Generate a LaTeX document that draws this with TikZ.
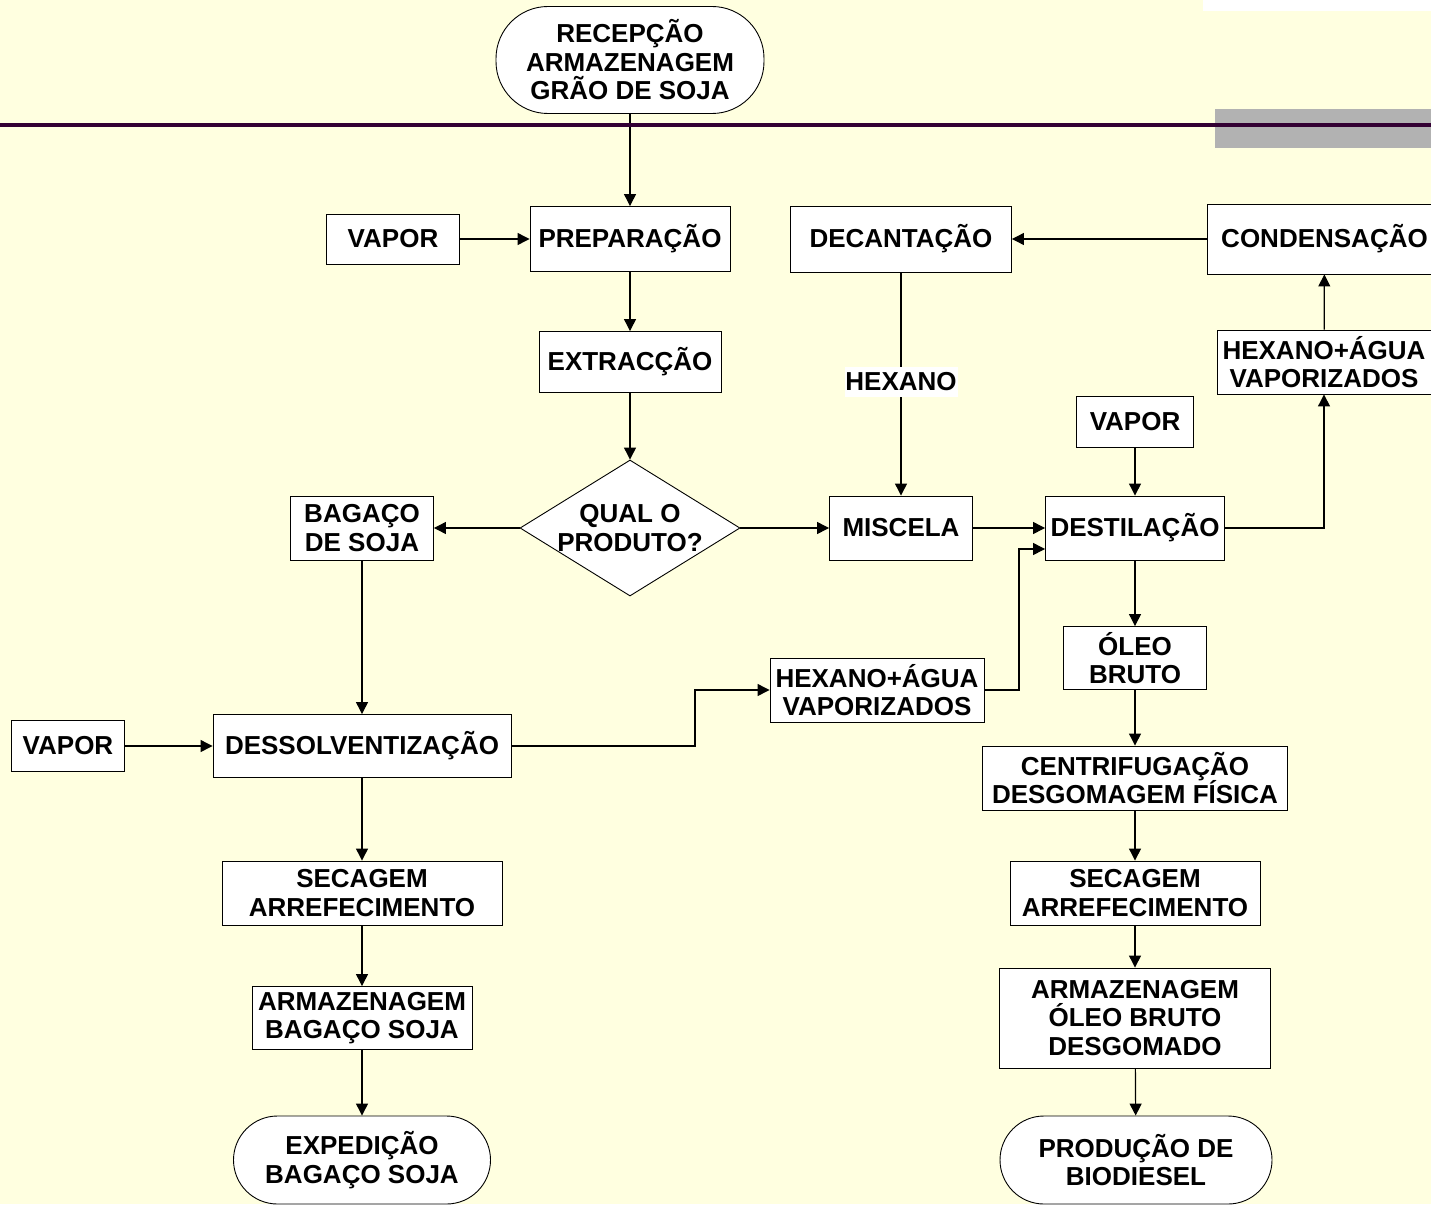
\documentclass[tikz,border=0pt]{standalone}
\usepackage{fontspec}
\setmainfont{Liberation Sans}
\usetikzlibrary{arrows.meta,shapes.geometric}
\definecolor{bgc}{RGB}{255,255,224}
\definecolor{barc}{RGB}{51,0,51}
\definecolor{grc}{RGB}{178,178,178}
\newcommand{\boxfont}{\fontsize{26}{28.5}\selectfont\bfseries}
\tikzset{
  box/.style={draw=black, fill=white, line width=0.9pt, inner sep=0pt, align=center, font=\boxfont},
  term/.style={box, rounded corners=44pt},
  lbl/.style={fill=white, inner sep=0pt, align=center, font=\boxfont},
  arr/.style={-{Triangle[length=12pt,width=12pt]}, line width=1.2pt},
  ln/.style={line width=1.2pt}
}
\begin{document}
\begin{tikzpicture}[x=1pt,y=-1pt]
\useasboundingbox (0,0) rectangle (1431,1204);
\clip (0,0) rectangle (1431,1204);
\fill[bgc] (0,0) rectangle (1431,1204);
\fill[white] (1203,0) rectangle (1431,11);
\fill[grc] (1215,109) rectangle (1431,148);

% nodes
\node[term, minimum width=268pt, minimum height=107pt, rounded corners=52pt] (start) at (630,60) {RECEPÇÃO\\ARMAZENAGEM\\GRÃO DE SOJA};
\node[box, minimum width=133pt, minimum height=50pt] (vap1) at (393,239) {VAPOR};
\node[box, minimum width=200pt, minimum height=65pt] (prep) at (630,239) {PREPARAÇÃO};
\node[box, minimum width=221pt, minimum height=66pt] (dec) at (901,239) {DECANTAÇÃO};
\node[box, minimum width=235pt, minimum height=70pt] (cond) at (1324.5,239) {CONDENSAÇÃO};
\node[box, minimum width=214pt, minimum height=64pt] (hexa) at (1324,362) {HEXANO+ÁGUA\\VAPORIZADOS};
\node[box, minimum width=182pt, minimum height=61pt] (ext) at (630,362) {EXTRACÇÃO};
\node[box, minimum width=117pt, minimum height=51pt] (vap2) at (1135,422) {VAPOR};
\node[diamond, draw=black, fill=white, line width=0.9pt, inner sep=0pt, aspect=1.62, minimum width=220pt, minimum height=136pt] (q) at (630,528) {};
\node[align=center, font=\boxfont, inner sep=0pt] (qt) at (q.center) {QUAL O\\PRODUTO?};
\node[box, minimum width=143pt, minimum height=64pt] (bag) at (362,528) {BAGAÇO\\DE SOJA};
\node[box, minimum width=143pt, minimum height=64pt] (mis) at (901,528) {MISCELA};
\node[box, minimum width=179pt, minimum height=64pt] (dest) at (1135,528) {DESTILAÇÃO};
\node[box, minimum width=143pt, minimum height=63pt] (oleo) at (1135,658) {ÓLEO\\BRUTO};
\node[box, minimum width=214pt, minimum height=64pt] (hexm) at (877,690) {HEXANO+ÁGUA\\VAPORIZADOS};
\node[box, minimum width=113pt, minimum height=51pt] (vap3) at (68,746) {VAPOR};
\node[box, minimum width=298pt, minimum height=63pt] (dess) at (362,746) {DESSOLVENTIZAÇÃO};
\node[box, minimum width=305pt, minimum height=64pt] (cent) at (1135,778) {CENTRIFUGAÇÃO\\DESGOMAGEM FÍSICA};
\node[box, minimum width=280pt, minimum height=64pt] (secl) at (362,893) {SECAGEM\\ARREFECIMENTO};
\node[box, minimum width=250pt, minimum height=64pt] (secr) at (1135,893) {SECAGEM\\ARREFECIMENTO};
\node[box, minimum width=220pt, minimum height=63pt] (arml) at (362,1018) {ARMAZENAGEM\\BAGAÇO SOJA};
\node[box, minimum width=271pt, minimum height=100pt] (armr) at (1135,1018) {ARMAZENAGEM\\ÓLEO BRUTO\\DESGOMADO};
\node[term, minimum width=257pt, minimum height=88pt] (exp) at (362,1160) {EXPEDIÇÃO\\BAGAÇO SOJA};
\node[term, minimum width=272pt, minimum height=88pt] (prod) at (1136,1160) {PRODUÇÃO DE\\BIODIESEL};

% connectors
\draw[arr] (start) -- (prep);
\draw[arr] (vap1) -- (prep);
\draw[arr] (prep) -- (ext);
\draw[arr] (ext) -- (q);
\draw[arr] (q) -- (bag);
\draw[arr] (q) -- (mis);
\draw[arr] (cond) -- (dec);
\draw[arr] (dec) -- (mis);
\node[lbl, minimum width=113pt, minimum height=30pt] (hexl) at (901,382) {HEXANO};
\draw[arr] (mis) -- (dest);
\draw[arr] (vap2) -- (dest);
\draw[arr] (dest.east) -| (hexa.south);
\draw[arr] (hexa) -- (cond);
\draw[arr] (dest) -- (oleo);
\draw[arr] (oleo) -- (cent);
\draw[arr] (cent) -- (secr);
\draw[arr] (secr) -- (armr);
\draw[arr] (armr) -- (prod);
\draw[arr] (bag) -- (dess);
\draw[arr] (vap3) -- (dess);
\draw[arr] (dess) -- (secl);
\draw[arr] (secl) -- (arml);
\draw[arr] (arml) -- (exp);
\coordinate (e1) at (695,746);
\draw[arr] (dess.east) -- (e1) |- (hexm.west);
\coordinate (e2) at (1019,690);
\draw[arr] (hexm.east) -- (e2) |- ([yshift=-21pt]dest.west);

% top bar
\draw[barc, line width=4pt] (0,125) -- (1431,125);
\end{tikzpicture}
\end{document}
